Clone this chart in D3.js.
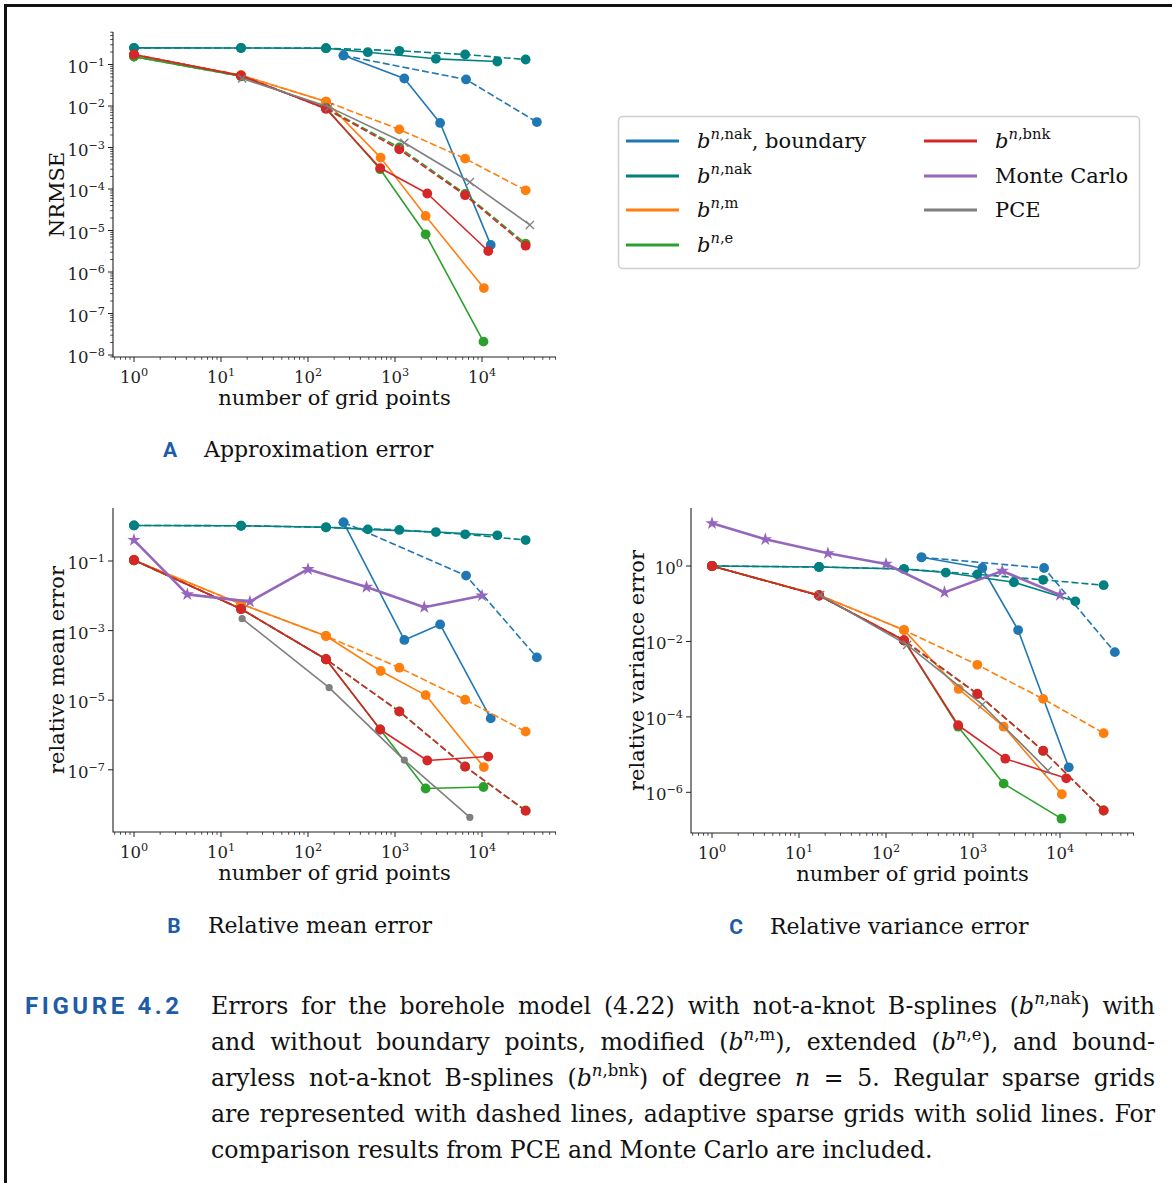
<!DOCTYPE html>
<html>
<head>
<meta charset="utf-8">
<script src="https://cdn.jsdelivr.net/npm/d3@7"></script>
<style>
  body { margin: 0; background: #fff; }
  svg { display: block; }
  text { white-space: pre; }
</style>
</head>
<body>
<svg id="fig" width="1172" height="1183"></svg>
<script>
// ---------------------------------------------------------------------------
// Data
// ---------------------------------------------------------------------------

// number of grid points
const xReg = [1, 17, 161, 1121, 6401, 31745];          // regular sparse grids
const xBndReg = [256, 6561, 42700];                      // regular, with boundary
const xBndAdapt = [256, 1280, 3300, 12600];              // adaptive, with boundary
const xNakAdapt = [1, 17, 161, 487, 2950, 15000];
const xModAdapt = [1, 17, 161, 684, 2250, 10500];
const xExtAdapt = [1, 17, 161, 676, 2250, 10400];
const xBnkAdapt = [1, 17, 161, 676, 2350, 11800];
const xMC = [1, 4.1, 21.5, 100, 470, 2170, 10000];
const xPCE = [17.5, 175, 1280, 7250, 35500];

// A: NRMSE
const bndRegA = [0.165, 0.0436, 4.1e-3];
const bndAdaptA = [0.165, 0.046, 3.9e-3, 4.5e-6];
const nakRegA = [0.252, 0.25, 0.247, 0.214, 0.174, 0.132];
const nakAdaptA = [0.252, 0.25, 0.247, 0.198, 0.137, 0.118];
const modRegA = [0.168, 0.055, 0.0128, 2.73e-3, 5.4e-4, 9.3e-5];
const modAdaptA = [0.168, 0.055, 0.0128, 5.7e-4, 2.24e-5, 4.1e-7];
const extRegA = [0.155, 0.052, 9.0e-3, 1.0e-3, 7.6e-5, 4.8e-6];
const extAdaptA = [0.155, 0.052, 9.0e-3, 3.0e-4, 8.1e-6, 2.1e-8];
const bnkRegA = [0.175, 0.054, 8.6e-3, 9.0e-4, 7.1e-5, 4.3e-6];
const bnkAdaptA = [0.175, 0.054, 8.6e-3, 3.2e-4, 7.8e-5, 3.2e-6];
const pceA = [0.046, 9.4e-3, 1.3e-3, 1.47e-4, 1.36e-5];

// B: relative mean error
const bndRegB = [1.29, 0.038, 1.7e-4];
const bndAdaptB = [1.29, 5.4e-4, 1.5e-3, 3.0e-6];
const nakRegB = [1.05, 1.03, 0.93, 0.78, 0.585, 0.40];
const nakAdaptB = [1.05, 1.03, 0.93, 0.81, 0.68, 0.547];
const modRegB = [0.105, 5.8e-3, 7.0e-4, 8.6e-5, 1.03e-5, 1.25e-6];
const modAdaptB = [0.105, 5.8e-3, 7.0e-4, 6.9e-5, 1.4e-5, 1.2e-7];
const extRegB = [0.105, 4.2e-3, 1.5e-4, 4.8e-6, 1.25e-7, 6.8e-9];
const extAdaptB = [0.105, 4.2e-3, 1.5e-4, 1.44e-6, 2.9e-8, 3.2e-8];
const bnkRegB = [0.107, 4.2e-3, 1.5e-4, 4.7e-6, 1.23e-7, 6.6e-9];
const bnkAdaptB = [0.107, 4.2e-3, 1.5e-4, 1.44e-6, 1.85e-7, 2.4e-7];
const mcB = [0.40, 0.011, 6.8e-3, 0.058, 0.0179, 4.7e-3, 0.0101];
const pceB = [2.2e-3, 2.3e-5, 1.9e-7, 4.3e-9];

// C: relative variance error
const bndRegC = [1.7, 0.885, 5.2e-3];
const bndAdaptC = [1.7, 0.885, 0.020, 4.6e-6];
const nakRegC = [1.0, 0.94, 0.83, 0.60, 0.43, 0.31];
const nakAdaptC = [1.0, 0.94, 0.83, 0.67, 0.37, 0.116];
const modRegC = [1.0, 0.17, 0.020, 2.4e-3, 3.0e-4, 3.7e-5];
const modAdaptC = [1.0, 0.17, 0.020, 5.5e-4, 5.5e-5, 8.9e-7];
const extRegC = [1.0, 0.165, 0.0105, 4.0e-4, 1.25e-5, 3.3e-7];
const extAdaptC = [1.0, 0.165, 0.0105, 5.5e-5, 1.7e-6, 2.0e-7];
const bnkRegC = [1.0, 0.165, 0.0108, 4.1e-4, 1.27e-5, 3.3e-7];
const bnkAdaptC = [1.0, 0.165, 0.0108, 6.0e-5, 7.8e-6, 2.35e-6];
const mcC = [13.5, 5.1, 2.17, 1.13, 0.20, 0.74, 0.17];
const pceC = [0.17, 8.1e-3, 2.1e-4, 3.8e-6];

// axis ticks
const yTicksA = [1e-1, 1e-2, 1e-3, 1e-4, 1e-5, 1e-6, 1e-7, 1e-8];
const yTicksB = [1e-1, 1e-3, 1e-5, 1e-7];
const yTicksC = [1, 1e-2, 1e-4, 1e-6];
const xTicks = [1, 10, 100, 1000, 10000];

// legend
const legendCol1 = ["{i:b}{si:n}{s:,nak}, boundary", "{i:b}{si:n}{s:,nak}", "{i:b}{si:n}{s:,m}", "{i:b}{si:n}{s:,e}"];
const legendCol2 = ["{i:b}{si:n}{s:,bnk}", "Monte Carlo", "PCE"];

const captionLines = [
  "Errors for the borehole model (4.22) with not-a-knot B-splines ({i:b}{si:n}{s:,nak}) with",
  "and without boundary points, modified ({i:b}{si:n}{s:,m}), extended ({i:b}{si:n}{s:,e}), and bound-",
  "aryless not-a-knot B-splines ({i:b}{si:n}{s:,bnk}) of degree {i:n} = 5.  Regular sparse grids",
  "are represented with dashed lines, adaptive sparse grids with solid lines. For",
  "comparison results from PCE and Monte Carlo are included."
];

// ---------------------------------------------------------------------------
// Styles
// ---------------------------------------------------------------------------

const W = 1172, H = 1183;
const serif = "'DejaVu Serif', serif";
const accent = "#1c5ca8";
const col = {
  bnd: "#1f77b4", nak: "#008080", mod: "#ff7f0e", ext: "#2ca02c",
  bnk: "#d62728", mc: "#9467bd", pce: "#7f7f7f"
};
const legendColors1 = [col.bnd, col.nak, col.mod, col.ext];
const legendColors2 = [col.bnk, col.mc, col.pce];

const svg = d3.select("#fig");
svg.append("rect").attr("width", W).attr("height", H).attr("fill", "#fff");

// frame of the figure box
svg.append("path")
  .attr("d", `M5.5,${H} V5.5 H${W}`)
  .attr("fill", "none")
  .attr("stroke", "#111")
  .attr("stroke-width", 3);

// text with {i:..} italic, {s:..} superscript, {si:..} italic superscript
function richText(sel, str, fs) {
  const re = /\{(i|s|si):([^}]*)\}/g;
  const segs = [];
  let last = 0, m;
  while ((m = re.exec(str))) {
    if (m.index > last) segs.push({ t: str.slice(last, m.index), k: "" });
    segs.push({ t: m[2], k: m[1] });
    last = re.lastIndex;
  }
  if (last < str.length) segs.push({ t: str.slice(last), k: "" });

  const shift = 0.42 * fs;
  let up = false;
  segs.forEach((s) => {
    const ts = sel.append("tspan").text(s.t);
    const sup = s.k === "s" || s.k === "si";
    if (s.k === "i" || s.k === "si") ts.attr("font-style", "italic");
    if (sup) {
      ts.attr("font-size", fs * 0.7);
      if (!up) { ts.attr("dy", -shift); up = true; }
    } else if (up) {
      ts.attr("dy", shift);
      up = false;
    }
  });
  return sel;
}

function powLabel(sel, e, fs) {
  sel.append("tspan").text("10");
  sel.append("tspan")
    .attr("font-size", fs * 0.68)
    .attr("dy", -0.42 * fs)
    .text(e < 0 ? "\u2212" + (-e) : String(e));
}

// ---------------------------------------------------------------------------
// Panels
// ---------------------------------------------------------------------------

function drawPanel(cfg) {
  const g = svg.append("g");
  const x = d3.scaleLog().domain([1, 1e4]).range([cfg.x0, cfg.x0 + 4 * cfg.xDec]);
  const y = d3.scaleLog().domain([cfg.yRef, cfg.yRef / 10]).range([cfg.yRefPx, cfg.yRefPx + cfg.yDec]);

  const xMin = x.invert(cfg.left), xMax = x.invert(cfg.right);
  const yMin = y.invert(cfg.bottom), yMax = y.invert(cfg.top);
  const tickColor = "#222";
  const tickFs = 16.5;

  // x minor + major ticks
  const xMinor = [];
  for (let d = -1; d <= 5; d++) {
    for (let k = 2; k <= 9; k++) {
      const v = k * Math.pow(10, d);
      if (v >= xMin && v <= xMax) xMinor.push(v);
    }
  }
  g.append("g").selectAll("line").data(xMinor).join("line")
    .attr("x1", (d) => x(d)).attr("x2", (d) => x(d))
    .attr("y1", cfg.bottom).attr("y2", cfg.bottom + 2.8)
    .attr("stroke", tickColor).attr("stroke-width", 0.8);
  g.append("g").selectAll("line").data(xTicks).join("line")
    .attr("x1", (d) => x(d)).attr("x2", (d) => x(d))
    .attr("y1", cfg.bottom).attr("y2", cfg.bottom + 5)
    .attr("stroke", tickColor).attr("stroke-width", 1);
  xTicks.forEach((v) => {
    const t = g.append("text")
      .attr("x", x(v)).attr("y", cfg.bottom + 26)
      .attr("text-anchor", "middle")
      .attr("font-family", serif).attr("font-size", tickFs)
      .attr("fill", tickColor);
    powLabel(t, Math.round(Math.log10(v)), tickFs);
  });

  // y minor + major ticks
  if (cfg.yMinor) {
    const yMinorVals = [];
    for (let d = -10; d <= 1; d++) {
      for (let k = 2; k <= 9; k++) {
        const v = k * Math.pow(10, d);
        if (v >= yMin && v <= yMax) yMinorVals.push(v);
      }
    }
    g.append("g").selectAll("line").data(yMinorVals).join("line")
      .attr("x1", cfg.left - 2.8).attr("x2", cfg.left)
      .attr("y1", (d) => y(d)).attr("y2", (d) => y(d))
      .attr("stroke", tickColor).attr("stroke-width", 0.8);
  }
  g.append("g").selectAll("line").data(cfg.yTicks).join("line")
    .attr("x1", cfg.left - 5).attr("x2", cfg.left)
    .attr("y1", (d) => y(d)).attr("y2", (d) => y(d))
    .attr("stroke", tickColor).attr("stroke-width", 1);
  cfg.yTicks.forEach((v) => {
    const t = g.append("text")
      .attr("x", cfg.left - 8).attr("y", y(v) + 8)
      .attr("text-anchor", "end")
      .attr("font-family", serif).attr("font-size", tickFs)
      .attr("fill", tickColor);
    powLabel(t, Math.round(Math.log10(v)), tickFs);
  });

  // spines
  g.append("path")
    .attr("d", `M${cfg.left},${cfg.top} V${cfg.bottom} H${cfg.right}`)
    .attr("fill", "none").attr("stroke", tickColor).attr("stroke-width", 1.1);

  // labels
  g.append("text")
    .attr("x", (cfg.left + cfg.right) / 2).attr("y", cfg.bottom + 48)
    .attr("text-anchor", "middle")
    .attr("font-family", serif).attr("font-size", 21).attr("fill", "#111")
    .text("number of grid points");
  g.append("text")
    .attr("transform", `translate(${cfg.yLabelX},${(cfg.top + cfg.bottom) / 2}) rotate(-90)`)
    .attr("text-anchor", "middle")
    .attr("font-family", serif).attr("font-size", 21).attr("fill", "#111")
    .text(cfg.yLabel);

  // series
  const line = d3.line().x((d) => x(d[0])).y((d) => y(d[1]));
  cfg.series.forEach((s) => {
    const pts = s.xs.map((v, i) => [v, s.ys[i]]);
    g.append("path")
      .attr("d", line(pts))
      .attr("fill", "none")
      .attr("stroke", s.color)
      .attr("stroke-width", s.lw || 1.6)
      .attr("stroke-linejoin", "round")
      .attr("stroke-dasharray", s.dash ? "7,3" : null);

    const mk = s.marker || "o";
    const mg = g.append("g");
    if (mk === "o") {
      mg.selectAll("circle").data(pts).join("circle")
        .attr("cx", (d) => x(d[0])).attr("cy", (d) => y(d[1]))
        .attr("r", s.r || 4.9)
        .attr("fill", s.color);
    } else if (mk === "x") {
      mg.selectAll("path").data(pts).join("path")
        .attr("transform", (d) => `translate(${x(d[0])},${y(d[1])})`)
        .attr("d", d3.symbol(d3.symbolTimes, 45)())
        .attr("fill", "none")
        .attr("stroke", s.color).attr("stroke-width", 1.3);
    } else if (mk === "*") {
      mg.selectAll("path").data(pts).join("path")
        .attr("transform", (d) => `translate(${x(d[0])},${y(d[1])})`)
        .attr("d", d3.symbol(d3.symbolStar, 55)())
        .attr("fill", s.color);
    }
  });
}

function gridSeries(bndReg, bndAdapt, nakReg, nakAdapt, modReg, modAdapt, extReg, extAdapt, bnkReg, bnkAdapt) {
  return [
    { xs: xBndReg, ys: bndReg, color: col.bnd, dash: true },
    { xs: xBndAdapt, ys: bndAdapt, color: col.bnd },
    { xs: xReg, ys: nakReg, color: col.nak, dash: true },
    { xs: xNakAdapt, ys: nakAdapt, color: col.nak },
    { xs: xReg, ys: modReg, color: col.mod, dash: true },
    { xs: xModAdapt, ys: modAdapt, color: col.mod },
    { xs: xReg, ys: extReg, color: col.ext, dash: true },
    { xs: xExtAdapt, ys: extAdapt, color: col.ext },
    { xs: xReg, ys: bnkReg, color: col.bnk, dash: true },
    { xs: xBnkAdapt, ys: bnkAdapt, color: col.bnk }
  ];
}

drawPanel({
  x0: 134, xDec: 87, left: 113, right: 556,
  yRef: 1e-1, yRefPx: 64.5, yDec: 41.5, top: 32, bottom: 357,
  yTicks: yTicksA, yMinor: true, yLabel: "NRMSE", yLabelX: 64,
  series: gridSeries(bndRegA, bndAdaptA, nakRegA, nakAdaptA, modRegA, modAdaptA,
                     extRegA, extAdaptA, bnkRegA, bnkAdaptA)
    .concat([{ xs: xPCE, ys: pceA, color: col.pce, marker: "x" }])
});

drawPanel({
  x0: 134, xDec: 87, left: 113, right: 556,
  yRef: 1e-1, yRefPx: 561, yDec: 34.8, top: 508, bottom: 832,
  yTicks: yTicksB, yMinor: false, yLabel: "relative mean error", yLabelX: 64,
  series: gridSeries(bndRegB, bndAdaptB, nakRegB, nakAdaptB, modRegB, modAdaptB,
                     extRegB, extAdaptB, bnkRegB, bnkAdaptB)
    .concat([
      { xs: xMC, ys: mcB, color: col.mc, marker: "*", lw: 2.6 },
      { xs: xPCE.slice(0, pceB.length), ys: pceB, color: col.pce, r: 3.6 }
    ])
});

drawPanel({
  x0: 712, xDec: 87, left: 691, right: 1134,
  yRef: 1, yRefPx: 566, yDec: 37.72, top: 508, bottom: 833,
  yTicks: yTicksC, yMinor: false, yLabel: "relative variance error", yLabelX: 644,
  series: gridSeries(bndRegC, bndAdaptC, nakRegC, nakAdaptC, modRegC, modAdaptC,
                     extRegC, extAdaptC, bnkRegC, bnkAdaptC)
    .concat([
      { xs: xMC, ys: mcC, color: col.mc, marker: "*", lw: 2.6 },
      { xs: xPCE.slice(0, pceC.length), ys: pceC, color: col.pce, marker: "x" }
    ])
});

// ---------------------------------------------------------------------------
// Legend
// ---------------------------------------------------------------------------

const legend = svg.append("g");
legend.append("rect")
  .attr("x", 618.5).attr("y", 116.5).attr("width", 521).attr("height", 152)
  .attr("rx", 4)
  .attr("fill", "#fff").attr("stroke", "#cfcfcf").attr("stroke-width", 1.5);

const legendRowY = [141, 176, 210, 245];
[[legendCol1, legendColors1, 626], [legendCol2, legendColors2, 924]].forEach(([labels, colors, lx]) => {
  labels.forEach((lab, i) => {
    legend.append("line")
      .attr("x1", lx).attr("x2", lx + 53)
      .attr("y1", legendRowY[i]).attr("y2", legendRowY[i])
      .attr("stroke", colors[i]).attr("stroke-width", 3);
    const t = legend.append("text")
      .attr("x", lx + 71).attr("y", legendRowY[i] + 7)
      .attr("font-family", serif).attr("font-size", 21).attr("fill", "#111");
    richText(t, lab, 21);
  });
});

// ---------------------------------------------------------------------------
// Panel titles and caption
// ---------------------------------------------------------------------------

const titles = [
  { letter: "A", lx: 170, tx: 204, y: 457, text: "Approximation error" },
  { letter: "B", lx: 174, tx: 208, y: 933, text: "Relative mean error" },
  { letter: "C", lx: 736, tx: 770, y: 934, text: "Relative variance error" }
];
titles.forEach((t) => {
  svg.append("text")
    .attr("x", t.lx).attr("y", t.y)
    .attr("text-anchor", "middle")
    .attr("font-family", "Roboto, 'DejaVu Sans', sans-serif")
    .attr("font-weight", "bold").attr("font-size", 21)
    .attr("fill", accent)
    .text(t.letter);
  svg.append("text")
    .attr("x", t.tx).attr("y", t.y)
    .attr("font-family", serif).attr("font-size", 22).attr("fill", "#111")
    .text(t.text);
});

svg.append("text")
  .attr("x", 25).attr("y", 1014)
  .attr("font-family", "Roboto, 'DejaVu Sans', sans-serif")
  .attr("font-weight", "bold").attr("font-size", 24)
  .attr("letter-spacing", 3.6)
  .attr("fill", accent)
  .text("FIGURE 4.2");

// justified caption: words placed one by one
const capLeft = 211, capRight = 1155, capFs = 23.6, capTop = 1014, capLead = 36;
captionLines.forEach((lineStr, li) => {
  const words = lineStr.split(" ").filter((w) => w.length);
  const els = words.map((w) => {
    const t = svg.append("text")
      .attr("y", capTop + li * capLead)
      .attr("font-family", serif).attr("font-size", capFs).attr("fill", "#111");
    richText(t, w, capFs);
    return t;
  });
  const widths = els.map((e) => e.node().getComputedTextLength());
  const total = d3.sum(widths);
  const last = li === captionLines.length - 1;
  const gap = last ? capFs * 0.3 : Math.max(3, (capRight - capLeft - total) / (words.length - 1));
  let cx = capLeft;
  els.forEach((e, i) => {
    e.attr("x", cx);
    cx += widths[i] + gap;
  });
});
</script>
</body>
</html>
